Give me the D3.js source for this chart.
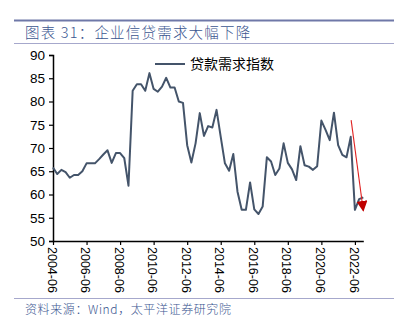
<!DOCTYPE html>
<html><head><meta charset="utf-8">
<script src="https://cdn.jsdelivr.net/npm/d3@7/dist/d3.min.js"></script>
<style>
html,body{margin:0;padding:0;background:#fff;}
svg{display:block;}
</style></head>
<body>
<script>
const categories = [
"2004-06","2004-09","2004-12",
"2005-03","2005-06","2005-09","2005-12","2006-03","2006-06","2006-09","2006-12",
"2007-03","2007-06","2007-09","2007-12","2008-03","2008-06","2008-09","2008-12",
"2009-03","2009-06","2009-09","2009-12","2010-03","2010-06","2010-09","2010-12",
"2011-03","2011-06","2011-09","2011-12","2012-03","2012-06","2012-09","2012-12",
"2013-03","2013-06","2013-09","2013-12","2014-03","2014-06","2014-09","2014-12",
"2015-03","2015-06","2015-09","2015-12","2016-03","2016-06","2016-09","2016-12",
"2017-03","2017-06","2017-09","2017-12","2018-03","2018-06","2018-09","2018-12",
"2019-03","2019-06","2019-09","2019-12","2020-03","2020-06","2020-09","2020-12",
"2021-03","2021-06","2021-09","2021-12","2022-03","2022-06","2022-09","2022-12"];
const loanDemand = [
65.8,64.4,65.3,64.8,63.6,64.2,64.2,65.0,66.7,66.7,
66.7,67.6,68.6,69.5,66.8,68.9,68.9,67.8,61.9,82.3,
83.7,83.7,82.3,86.1,82.7,82.1,83.2,85.1,83.0,83.0,
80.0,79.7,70.6,66.9,71.0,77.5,72.6,74.7,74.4,78.2,
72.4,66.7,65.1,68.7,60.6,56.7,56.7,62.6,56.8,55.8,
57.4,68.0,67.1,64.2,65.6,71.0,66.8,65.4,63.1,70.4,
66.3,66.0,65.3,66.1,75.9,73.9,71.7,77.6,70.6,68.5,
68.0,72.4,56.7,59.0,59.4];
const xTickLabels = ["2004-06","2006-06","2008-06","2010-06","2012-06","2014-06","2016-06","2018-06","2020-06","2022-06"];
const yTicks = [50,55,60,65,70,75,80,85,90];
const seriesName = "贷款需求指数";
const titleText = "图表 31：企业信贷需求大幅下降";
const sourceText = "资料来源：Wind，太平洋证券研究院";
// annotation arrow: [category index, value] start and end
const arrowStart = [71.1, 76.0];
const arrowEnd = [74.0, 56.5];

const W = 401, H = 322;
const svg = d3.select("body").append("svg").attr("width", W).attr("height", H);

// header
svg.append("line").attr("x1",14).attr("x2",394).attr("y1",20.5).attr("y2",20.5)
  .attr("stroke","#6f78a8").attr("stroke-width",2.2);
svg.append("text").attr("x",25).attr("y",38).text(titleText)
  .attr("font-family","'Noto Sans CJK SC'").attr("font-weight",300).attr("font-size",14.5).attr("fill","#3b5690")
  .attr("letter-spacing",1.2);
svg.append("line").attr("x1",14).attr("x2",394).attr("y1",43.5).attr("y2",43.5)
  .attr("stroke","#a6a8cc").attr("stroke-width",1);
// footer
svg.append("line").attr("x1",14).attr("x2",394).attr("y1",298.5).attr("y2",298.5)
  .attr("stroke","#a6a8cc").attr("stroke-width",1);
svg.append("text").attr("x",25).attr("y",314).text(sourceText)
  .attr("font-family","'Noto Sans CJK SC'").attr("font-weight",300).attr("font-size",12).attr("fill","#3b5690")
  .attr("letter-spacing",0.6);

const x = d3.scaleLinear().domain([0, categories.length-1]).range([53, 363.3]);
const y = d3.scaleLinear().domain([50, 90]).range([241, 55]);

const fontNum = "'Liberation Sans', Arial, sans-serif";

// y axis
const yAxis = svg.append("g").attr("transform","translate(53,0)")
  .call(d3.axisLeft(y).tickValues(yTicks).tickSize(4).tickPadding(4).tickFormat(d3.format("d")));
yAxis.select(".domain").attr("stroke","#000").attr("stroke-width",1.5);
yAxis.selectAll(".tick line").attr("stroke","#000").attr("stroke-width",1.2);
yAxis.selectAll(".tick text").attr("font-family",fontNum).attr("font-size",13.5).attr("fill","#000");

// x axis
const tickIdx = xTickLabels.map(l => categories.indexOf(l));
const xAxis = svg.append("g").attr("transform","translate(0,241)")
  .call(d3.axisBottom(x).tickValues(tickIdx).tickSize(4).tickSizeOuter(0)
    .tickFormat(d => categories[d]));
xAxis.select(".domain").attr("stroke","#000").attr("stroke-width",1.5);
xAxis.selectAll(".tick line").attr("stroke","#000").attr("stroke-width",1.2);
xAxis.selectAll(".tick text")
  .attr("font-family",fontNum).attr("font-size",12.5).attr("fill","#000")
  .attr("text-anchor","start").attr("dy","0.35em")
  .attr("transform","translate(-1.5,3) rotate(90)").attr("x",3).attr("y",0);

// line
const line = d3.line().x((d,i)=>x(i)).y(d=>y(d));
svg.append("path").datum(loanDemand).attr("d",line)
  .attr("fill","none").attr("stroke","#44546a").attr("stroke-width",2)
  .attr("stroke-linejoin","round");

// legend
svg.append("line").attr("x1",155).attr("x2",185).attr("y1",64).attr("y2",64)
  .attr("stroke","#44546a").attr("stroke-width",2);
svg.append("text").attr("x",190).attr("y",69).text(seriesName)
  .attr("font-family","'Noto Sans CJK SC'").attr("font-size",14).attr("fill","#000");

// arrow
const defs = svg.append("defs");
defs.append("marker").attr("id","ah").attr("viewBox","0 0 10 10")
  .attr("refX",9).attr("refY",5).attr("markerWidth",11).attr("markerHeight",11)
  .attr("markerUnits","userSpaceOnUse").attr("orient","auto")
  .append("path").attr("d","M0,0 L10,5 L0,10 Z").attr("fill","#c00000");
svg.append("line")
  .attr("x1",x(arrowStart[0])).attr("y1",y(arrowStart[1]))
  .attr("x2",x(arrowEnd[0])).attr("y2",y(arrowEnd[1]))
  .attr("stroke","#e02020").attr("stroke-width",1.1)
  .attr("marker-end","url(#ah)");
</script>
</body></html>
